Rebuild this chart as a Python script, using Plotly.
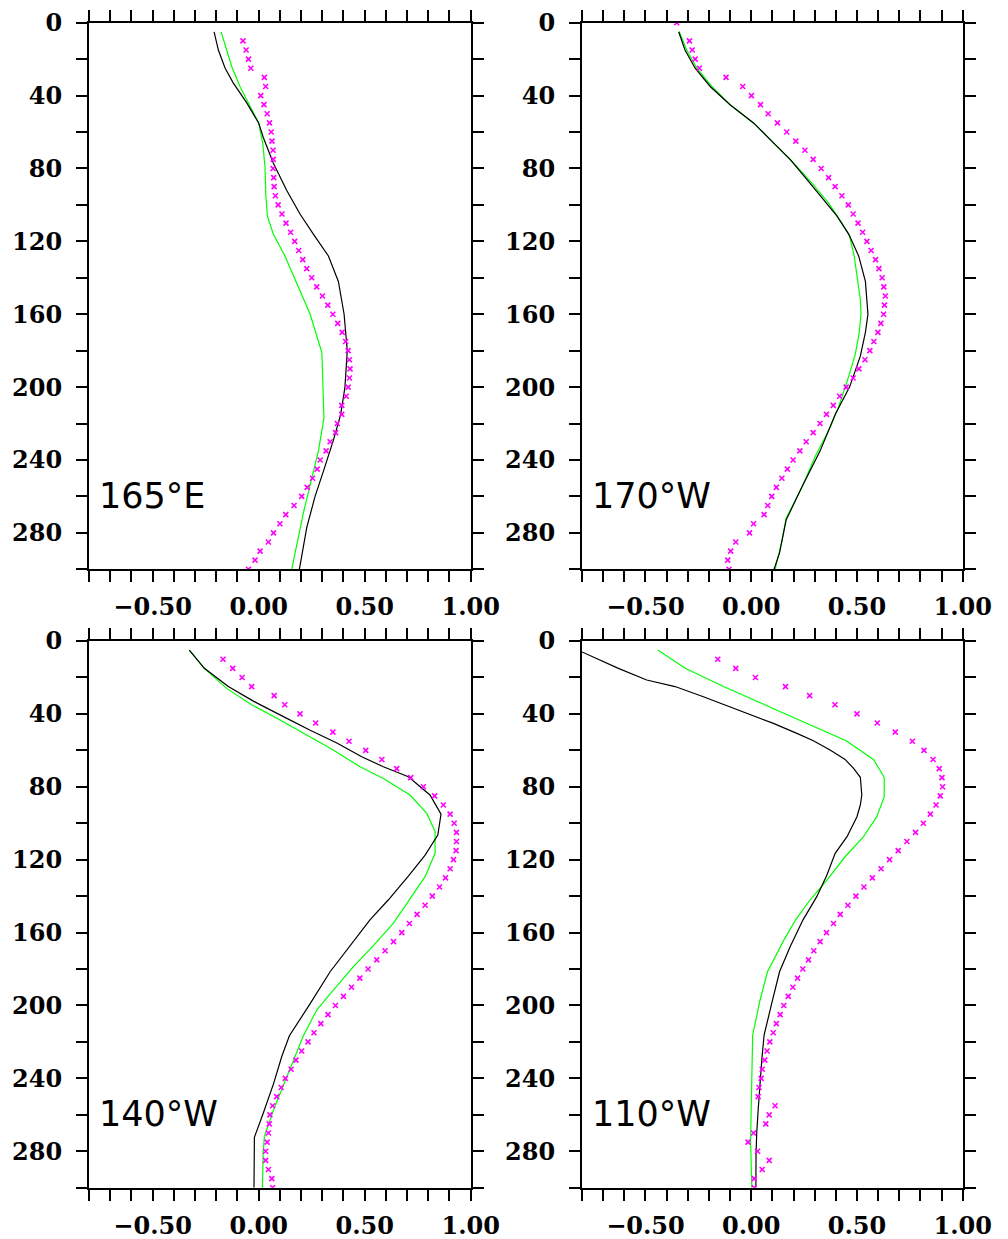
import plotly.graph_objects as go

# ---------------- data ----------------
panel_names = ["165°E", "170°W", "140°W", "110°W"]

obs_depth = [10, 15, 20, 25, 30, 35, 40, 45, 50, 55, 60, 65, 70, 75, 80, 85, 90, 95,
             100, 105, 110, 115, 120, 125, 130, 135, 140, 145, 150, 155, 160, 165,
             170, 175, 180, 185, 190, 195, 200, 205, 210, 215, 220, 225, 230, 235,
             240, 245, 250, 255, 260, 265, 270, 275, 280, 285, 290, 295, 300]
obs_depth_170w = [0] + obs_depth

# 165E
k1_d = [5, 15, 25, 33, 44, 55, 63, 77, 92, 105, 116, 128, 142, 152, 160, 180, 185, 200, 215, 229, 246, 260, 277, 300]
k1_u = [-0.21, -0.19, -0.158, -0.12, -0.056, 0.0, 0.022, 0.069, 0.132, 0.195, 0.258, 0.329, 0.376, 0.392, 0.403,
        0.418, 0.416, 0.407, 0.387, 0.353, 0.306, 0.266, 0.227, 0.192]
g1_d = [5, 15, 24, 35, 46, 55, 66, 79, 95, 106, 116, 128, 141, 152, 160, 181, 200, 217, 235, 251, 269, 300]
g1_u = [-0.177, -0.151, -0.127, -0.088, -0.04, 0.0, 0.019, 0.030, 0.034, 0.041, 0.069, 0.124, 0.172, 0.215,
        0.243, 0.298, 0.302, 0.308, 0.282, 0.25, 0.211, 0.156]
m1_u = [-0.074, -0.059, -0.048, -0.037, 0.027, 0.033, 0.01, 0.025, 0.04, 0.051, 0.059, 0.063, 0.068, 0.069,
        0.068, 0.071, 0.073, 0.079, 0.092, 0.11, 0.129, 0.151, 0.17, 0.189, 0.208, 0.227, 0.25, 0.274, 0.301,
        0.326, 0.35, 0.373, 0.394, 0.41, 0.422, 0.428, 0.431, 0.428, 0.422, 0.413, 0.392, 0.392, 0.371, 0.363,
        0.337, 0.318, 0.29, 0.276, 0.254, 0.229, 0.203, 0.167, 0.128, 0.1, 0.07, 0.046, 0.007, -0.017, -0.048]

# 170W
k2_d = [5, 15, 25, 35, 45, 55, 65, 75, 86, 97, 106, 116, 128, 142, 152, 160, 170, 183, 200, 215, 235, 255, 273, 280, 291, 300]
k2_u = [-0.343, -0.313, -0.265, -0.194, -0.10, 0.011, 0.097, 0.184, 0.263, 0.342, 0.405, 0.461, 0.508, 0.54,
        0.547, 0.552, 0.54, 0.516, 0.465, 0.397, 0.326, 0.239, 0.165, 0.153, 0.134, 0.108]
g2_d = [5, 15, 25, 35, 45, 55, 66, 77, 88, 99, 110, 117, 128, 143, 152, 160, 170, 182, 196, 211, 222, 238, 255, 272, 284, 300]
g2_u = [-0.34, -0.305, -0.257, -0.186, -0.10, 0.011, 0.105, 0.2, 0.287, 0.366, 0.429, 0.465, 0.487, 0.505,
        0.516, 0.519, 0.511, 0.492, 0.456, 0.413, 0.374, 0.303, 0.24, 0.165, 0.146, 0.113]
m2_u = [-0.352,
        -0.292, -0.279, -0.265, -0.245, -0.119, -0.04, 0.001, 0.044, 0.08, 0.124, 0.168, 0.211, 0.254, 0.293,
        0.331, 0.366, 0.397, 0.429, 0.459, 0.482, 0.505, 0.527, 0.547, 0.567, 0.588, 0.604, 0.619, 0.627, 0.634,
        0.63, 0.626, 0.613, 0.599, 0.58, 0.561, 0.538, 0.509, 0.482, 0.449, 0.418, 0.388, 0.356, 0.325, 0.293,
        0.26, 0.23, 0.198, 0.171, 0.145, 0.119, 0.097, 0.078, 0.061, 0.011, -0.008, -0.073, -0.097, -0.111, -0.105]

# 140W
k3_d = [5, 15, 25, 33, 41.5, 49, 56, 63.5, 69, 74.5, 84.5, 95, 106.5, 117.5, 129, 142, 153, 167, 181.5, 199,
        216.6, 228, 243, 259, 272.4, 300]
k3_u = [-0.327, -0.256, -0.143, -0.025, 0.117, 0.243, 0.369, 0.486, 0.588, 0.706, 0.808, 0.86, 0.845, 0.785,
        0.706, 0.612, 0.525, 0.431, 0.337, 0.243, 0.145, 0.109, 0.07, 0.022, -0.02, -0.022]
g3_d = [5, 15, 26, 35, 43.4, 51.6, 59.8, 69, 75.4, 84.5, 94.6, 104.6, 116.5, 129.3, 143, 155, 167, 178.7, 191.5,
        202.5, 216.6, 230, 241, 257.4, 272, 281, 300]
g3_u = [-0.327, -0.256, -0.151, -0.033, 0.101, 0.226, 0.352, 0.478, 0.588, 0.714, 0.793, 0.832, 0.832, 0.785,
        0.706, 0.635, 0.542, 0.447, 0.353, 0.274, 0.211, 0.164, 0.124, 0.07, 0.027, 0.021, 0.018]
m3_u = [-0.168, -0.122, -0.078, -0.033, 0.073, 0.123, 0.195, 0.269, 0.35, 0.426, 0.505, 0.581, 0.651, 0.717,
        0.777, 0.83, 0.871, 0.903, 0.922, 0.933, 0.933, 0.931, 0.919, 0.903, 0.881, 0.853, 0.819, 0.785, 0.747,
        0.711, 0.675, 0.636, 0.596, 0.557, 0.516, 0.477, 0.438, 0.4, 0.362, 0.327, 0.293, 0.261, 0.233, 0.203,
        0.176, 0.153, 0.126, 0.106, 0.085, 0.066, 0.053, 0.05, 0.046, 0.04, 0.033, 0.033, 0.046, 0.062, 0.066]

# 110W
k4_d = [6, 15, 21.4, 25, 30.6, 38.8, 45.2, 50.7, 54.7, 59.8, 65, 69.9, 74.8, 84.5, 90, 96.4, 107.4, 116.5, 128.4,
        140.3, 153, 167.8, 181.5, 198.9, 216.2, 230, 241, 255.6, 270.2, 281, 300]
k4_u = [-0.80, -0.628, -0.494, -0.36, -0.226, -0.037, 0.105, 0.216, 0.294, 0.373, 0.444, 0.484, 0.516, 0.523,
        0.516, 0.5, 0.453, 0.397, 0.358, 0.31, 0.245, 0.184, 0.134, 0.097, 0.061, 0.05, 0.042, 0.034, 0.026,
        0.023, 0.022]
g4_d = [5, 15, 25, 35, 45.2, 54.7, 65, 74.8, 85.4, 96.4, 107.4, 118.4, 131.2, 142, 153, 164, 181.5, 197, 216.2,
        235.4, 255.6, 273.9, 300]
g4_u = [-0.442, -0.312, -0.131, 0.066, 0.263, 0.449, 0.578, 0.629, 0.629, 0.594, 0.531, 0.444, 0.358, 0.279,
        0.21, 0.155, 0.077, 0.042, 0.007, 0.003, 0.0, -0.003, 0.003]
m4_u = [-0.158, -0.073, 0.02, 0.162, 0.276, 0.396, 0.5, 0.596, 0.681, 0.762, 0.817, 0.86, 0.889, 0.902, 0.905,
        0.894, 0.874, 0.847, 0.814, 0.777, 0.736, 0.695, 0.654, 0.614, 0.573, 0.533, 0.495, 0.457, 0.421, 0.389,
        0.356, 0.326, 0.296, 0.271, 0.244, 0.219, 0.197, 0.175, 0.154, 0.137, 0.119, 0.104, 0.088, 0.075, 0.064,
        0.052, 0.047, 0.037, 0.033, 0.113, 0.085, 0.069, 0.011, -0.015, 0.03, 0.085, 0.052, 0.014, 0.014]

x_tick_vals = [-0.8, -0.7, -0.6, -0.5, -0.4, -0.3, -0.2, -0.1, 0.0, 0.1, 0.2, 0.3, 0.4, 0.5, 0.6, 0.7, 0.8, 0.9, 1.0]
x_tick_text = ["", "", "", "\u22120.50", "", "", "", "", "0.00", "", "", "", "", "0.50", "", "", "", "", "1.00"]
y_tick_vals = [0, 20, 40, 60, 80, 100, 120, 140, 160, 180, 200, 220, 240, 260, 280, 300]
y_tick_text = ["0", "", "40", "", "80", "", "120", "", "160", "", "200", "", "240", "", "280", ""]

# ---------------- figure ----------------
OFF = 8                      # page body margin
W, H = 1008 - OFF, 1239 - OFF
boxes = [(89, 470.7, 22.7, 569.3), (582, 962.7, 22.7, 569.3),
         (89, 470.7, 641, 1187.7), (582, 962.7, 641, 1187.7)]

panels = [
    (k1_d, k1_u, g1_d, g1_u, obs_depth, m1_u),
    (k2_d, k2_u, g2_d, g2_u, obs_depth_170w, m2_u),
    (k3_d, k3_u, g3_d, g3_u, obs_depth, m3_u),
    (k4_d, k4_u, g4_d, g4_u, obs_depth, m4_u),
]

fig = go.Figure()
tickfont = dict(family="DejaVu Serif", size=24, color="black", weight="bold")

for i, (kd, ku, gd, gu, md, mu) in enumerate(panels):
    sfx = "" if i == 0 else str(i + 1)
    xr, yr = "x" + sfx, "y" + sfx
    fig.add_trace(go.Scatter(x=gu, y=gd, mode="lines", line=dict(color="#00ff00", width=1.2),
                             xaxis=xr, yaxis=yr, showlegend=False))
    fig.add_trace(go.Scatter(x=ku, y=kd, mode="lines", line=dict(color="black", width=1.2),
                             xaxis=xr, yaxis=yr, showlegend=False))
    fig.add_trace(go.Scatter(x=mu, y=md, mode="markers",
                             marker=dict(symbol="x-thin", size=5, line=dict(width=1.6, color="#ff00ff"),
                                         color="#ff00ff"),
                             xaxis=xr, yaxis=yr, showlegend=False))
    x0, x1, y0, y1 = [v - OFF for v in boxes[i]]
    common = dict(showline=True, linewidth=2, linecolor="black", mirror="ticks", ticks="outside",
                  ticklen=11, tickwidth=2, tickcolor="black", showgrid=False, zeroline=False,
                  tickfont=tickfont, automargin=False)
    fig.layout["xaxis" + sfx] = dict(domain=[x0 / W, x1 / W], anchor=yr, range=[-0.8, 1.0],
                                     tickmode="array", tickvals=x_tick_vals, ticktext=x_tick_text,
                                     ticklabelstandoff=4, **common)
    fig.layout["yaxis" + sfx] = dict(domain=[1 - y1 / H, 1 - y0 / H], anchor=xr, range=[300, 0],
                                     tickmode="array", tickvals=y_tick_vals, ticktext=y_tick_text,
                                     ticklabelstandoff=9, **common)
    fig.add_annotation(text=panel_names[i], xref=xr + " domain", yref=yr + " domain",
                       x=0.02, y=0.134, xanchor="left", yanchor="middle", showarrow=False,
                       font=dict(family="DejaVu Sans", size=35, color="black"))

fig.update_layout(width=W, height=H, margin=dict(l=0, r=0, t=0, b=0),
                  paper_bgcolor="white", plot_bgcolor="white")
fig.write_html("out.html")
